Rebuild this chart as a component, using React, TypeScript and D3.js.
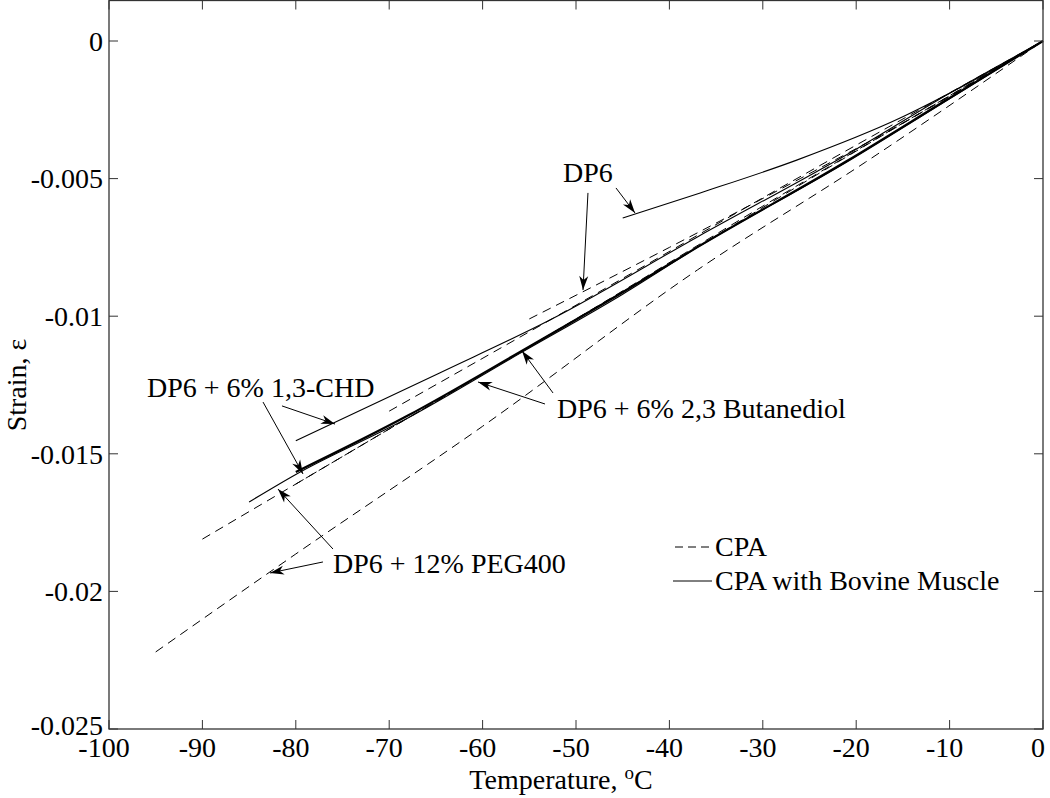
import React from "react";
import * as d3 from "d3";

// ---------- data (Temperature °C, strain) ----------
const xTicks = [-100, -90, -80, -70, -60, -50, -40, -30, -20, -10, 0];
const yTicks = [0, -0.005, -0.01, -0.015, -0.02, -0.025];
const yTickLabels = ["0", "-0.005", "-0.01", "-0.015", "-0.02", "-0.025"];

// CPA with bovine muscle (solid)
const dp6Muscle: [number, number][] = [[-45, -0.00643], [-36.7, -0.00552], [-26.3, -0.00432], [-15.3, -0.0028], [-8.9, -0.0017], [0, 0]];
const chdMuscle: [number, number][] = [[-80, -0.01453], [-64.6, -0.01206], [-52.8, -0.01014], [-37, -0.00712], [-20, -0.00393], [-10, -0.0019], [0, 0]];
const butMuscle: [number, number][] = [[-80, -0.01566], [-68, -0.01361], [-56, -0.0113], [-45, -0.00913], [-37, -0.00749], [-21, -0.00436], [-10, -0.00207], [0, 0]];
const pegMuscle: [number, number][] = [[-85, -0.01675], [-80, -0.01575], [-68, -0.0137], [-56, -0.01135], [-45, -0.0092], [-37, -0.0075], [-21, -0.0044], [-10, -0.0021], [0, 0]];

// CPA alone (dashed)
const dp6Cpa: [number, number][] = [[-55, -0.0101], [-40, -0.0075], [-26, -0.005], [-13, -0.0026], [0, 0]];
const pegCpa: [number, number][] = [[-95, -0.0222], [-80, -0.01864], [-60, -0.014], [-37, -0.00832], [-19, -0.0044], [0, 0]];
const cpaC: [number, number][] = [[-90, -0.0181], [-70, -0.0141], [-50, -0.0101], [-30, -0.006], [0, 0]];
const cpaD: [number, number][] = [[-80, -0.0161], [-60, -0.0121], [-40, -0.0081], [-20, -0.004], [0, 0]];
const cpaE: [number, number][] = [[-70, -0.01345], [-50, -0.0096], [-30, -0.0057], [0, 0]];

const solidSeries = [dp6Muscle, chdMuscle, pegMuscle];
const thickSeries = [butMuscle];
const dashedSeries = [dp6Cpa, pegCpa, cpaC, cpaD, cpaE];

// annotations: text anchor and arrows (tail -> tip) in data units
const labels = [
  { text: "DP6", at: [-51.39, -0.00512] },
  { text: "DP6 + 6% 1,3-CHD", at: [-95.93, -0.01294] },
  { text: "DP6 + 6% 2,3 Butanediol", at: [-52.03, -0.0137] },
  { text: "DP6 + 12% PEG400", at: [-76.02, -0.01933] },
];
const arrows: [number, number, number, number][] = [
  [-48.72, -0.00552, -49.25, -0.00905],
  [-45.72, -0.00534, -43.68, -0.00625],
  [-81.48, -0.01326, -75.8, -0.01392],
  [-83.51, -0.01312, -79.23, -0.01573],
  [-52.46, -0.01279, -55.78, -0.01126],
  [-53.32, -0.01319, -60.49, -0.01239],
  [-76.02, -0.01846, -81.91, -0.01628],
  [-77.09, -0.01893, -82.76, -0.01933],
];
const legendItems = ["CPA", "CPA with Bovine Muscle"];

export default function App() {
  const W = 1050, H = 798;
  const left = 109, right = 1043, top = 0.5, bottom = 729;
  const x = d3.scaleLinear().domain([-100, 0]).range([left, right]);
  const y = d3.scaleLinear().domain([-0.025, 0]).range([bottom, 41]);
  const line = d3.line<[number, number]>().x(d => x(d[0])).y(d => y(d[1])).curve(d3.curveMonotoneX);
  const font = "'Liberation Serif', 'Times New Roman', 'DejaVu Serif', serif";
  const fs = 28;
  const tick = 9;
  const ts = { fontFamily: font };

  const arrowHead = (x1: number, y1: number, x2: number, y2: number, key: number) => {
    const a = Math.atan2(y2 - y1, x2 - x1);
    const L = 14, w = 4.5, back = 10;
    const p = (dx: number, dy: number) => [x2 + dx * Math.cos(a) - dy * Math.sin(a), y2 + dx * Math.sin(a) + dy * Math.cos(a)];
    const pts = [p(0, 0), p(-L, -w), p(-back, 0), p(-L, w)];
    return <path key={"h" + key} d={"M" + pts.map(q => q.join(",")).join("L") + "Z"} fill="#000" />;
  };

  return (
    <svg width={W} height={H} style={{ position: "fixed", left: 0, top: 0, background: "#fff", fontFamily: font }}>
      <rect x={0} y={0} width={W} height={H} fill="#fff" />
      {/* series */}
      <g fill="none" stroke="#000">
        {dashedSeries.map((s, i) => <path key={"d" + i} d={line(s) || ""} strokeWidth={1} strokeDasharray="9,6" />)}
        {solidSeries.map((s, i) => <path key={"s" + i} d={line(s) || ""} strokeWidth={1.1} />)}
        {thickSeries.map((s, i) => <path key={"t" + i} d={line(s) || ""} strokeWidth={2.2} />)}
      </g>
      {/* frame */}
      <rect x={left} y={top} width={right - left} height={bottom - top} fill="none" stroke="#333" strokeWidth={1.3} />
      {xTicks.map(t => (
        <g key={"xt" + t}>
          <line x1={x(t)} x2={x(t)} y1={bottom} y2={bottom - tick} stroke="#333" />
          <line x1={x(t)} x2={x(t)} y1={top} y2={top + tick} stroke="#333" />
          <text style={ts} x={x(t) - 5} y={757} fontSize={fs} textAnchor="middle">{String(t)}</text>
        </g>
      ))}
      {yTicks.map((t, i) => (
        <g key={"yt" + i}>
          <line x1={left} x2={left + tick} y1={y(t)} y2={y(t)} stroke="#333" />
          <line x1={right} x2={right - tick} y1={y(t)} y2={y(t)} stroke="#333" />
          <text style={ts} x={103} y={y(t)} dy={i === yTicks.length - 1 ? "0.2em" : "0.35em"} fontSize={fs} textAnchor="end">{yTickLabels[i]}</text>
        </g>
      ))}
      {/* axis titles */}
      <text style={ts} x={561} y={789} fontSize={fs} textAnchor="middle">
        Temperature, <tspan fontSize={19} dy={-10}>o</tspan><tspan dy={10}>C</tspan>
      </text>
      <text style={ts} transform={`translate(26,385) rotate(-90)`} fontSize={fs} textAnchor="middle">Strain, ε</text>
      {/* annotations */}
      {labels.map((l, i) => (
        <text style={ts} key={"l" + i} x={x(l.at[0])} y={y(l.at[1])} fontSize={fs}>{l.text}</text>
      ))}
      {arrows.map((a, i) => {
        const x1 = x(a[0]), y1 = y(a[1]), x2 = x(a[2]), y2 = y(a[3]);
        return (
          <g key={"a" + i}>
            <line x1={x1} y1={y1} x2={x2} y2={y2} stroke="#000" strokeWidth={1} />
            {arrowHead(x1, y1, x2, y2, i)}
          </g>
        );
      })}
      {/* legend */}
      <line x1={675} x2={712} y1={547} y2={547} stroke="#000" strokeDasharray="8,5" />
      <text style={ts} x={715} y={556} fontSize={fs}>{legendItems[0]}</text>
      <line x1={673} x2={712} y1={581} y2={581} stroke="#000" />
      <text style={ts} x={715} y={590} fontSize={fs}>{legendItems[1]}</text>
    </svg>
  );
}
